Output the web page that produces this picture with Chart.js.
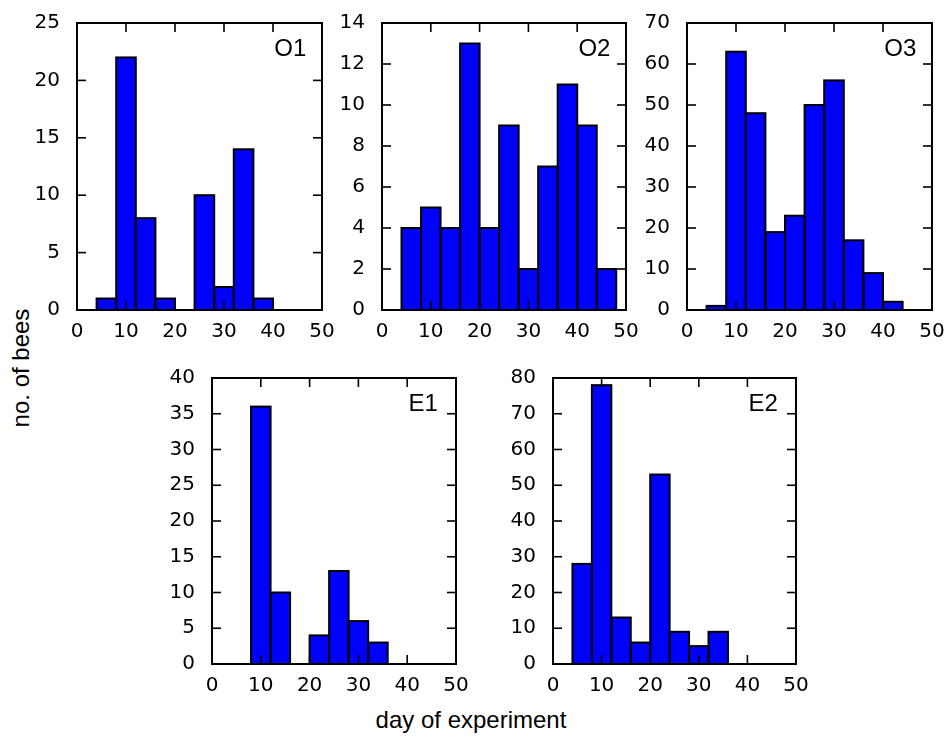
<!DOCTYPE html>
<html>
<head>
<meta charset="utf-8">
<script src="https://cdn.jsdelivr.net/npm/chart.js@4.4.1/dist/chart.umd.min.js"></script>
<style>
  html, body { margin: 0; padding: 0; background: #fff; }
  #page { position: relative; width: 948px; height: 738px; overflow: hidden; }
  canvas { position: absolute; }
  .axis-title {
    position: absolute;
    font-family: "Liberation Sans", Arial, sans-serif;
    font-size: 24px;
    line-height: 24px;
    height: 24px;
    color: #000;
    text-align: center;
    white-space: nowrap;
  }
</style>
</head>
<body>
<div id="page">
  <div class="axis-title" style="left:-79px; top:356px; width:200px; transform:rotate(-90deg);">no. of bees</div>
  <div class="axis-title" style="left:361px; top:708px; width:220px;">day of experiment</div>
</div>
<script>
// histogram bins (left edges, days) and counts per colony
const binStarts = [4, 8, 12, 16, 20, 24, 28, 32, 36, 40, 44];
const binWidth = 4;

const countsO1 = [1, 22, 8, 1, 0, 10, 2, 14, 1, 0, 0];
const countsO2 = [4, 5, 4, 13, 4, 9, 2, 7, 11, 9, 2];
const countsO3 = [1, 63, 48, 19, 23, 50, 56, 17, 9, 2, 0];
const countsE1 = [0, 36, 10, 0, 4, 13, 6, 3, 0, 0, 0];
const countsE2 = [28, 78, 13, 6, 53, 9, 5, 9, 0, 0, 0];

const panelNames = ['O1', 'O2', 'O3', 'E1', 'E2'];
const panelCounts = [countsO1, countsO2, countsO3, countsE1, countsE2];
const yMaxes = [25, 14, 70, 40, 80];
const ySteps = [5, 2, 10, 5, 10];
const xMin = 0, xMax = 50, xStep = 10;

// where each plot frame sits on the page
const frames = [
  { left: 77, top: 18, w: 245, h: 292 },
  { left: 382, top: 18, w: 244, h: 292 },
  { left: 687, top: 18, w: 245, h: 292 },
  { left: 212, top: 373, w: 244, h: 291 },
  { left: 553, top: 373, w: 243, h: 291 }
];
const Y_AXIS_W = 66, X_AXIS_H = 44, PAD_TOP = 16, PAD_RIGHT = 20;
const TICK_FONT = { family: 'DejaVu Sans', size: 20 };
const TICK_LEN = 9, TICK_W = 1.6;

// frame, inward ticks, bar outlines and the panel name
const framePlugin = {
  id: 'mplFrame',
  afterDatasetsDraw(chart) {
    const ctx = chart.ctx;
    const meta = chart.getDatasetMeta(0);
    ctx.save();
    ctx.strokeStyle = '#000';
    ctx.lineWidth = 2;
    meta.data.forEach(bar => {
      const { x, y, base, width } = bar.getProps(['x', 'y', 'base', 'width'], true);
      ctx.strokeRect(x - width / 2, y, width, base - y);
    });
    ctx.restore();
  },
  afterDraw(chart, args, opts) {
    const ctx = chart.ctx;
    const a = chart.chartArea;
    const xs = chart.scales.x, ys = chart.scales.y;
    ctx.save();
    ctx.fillStyle = '#000';
    xs.ticks.forEach(t => {
      const px = xs.getPixelForValue(t.value);
      ctx.fillRect(px - TICK_W / 2, a.bottom - TICK_LEN, TICK_W, TICK_LEN);
      ctx.fillRect(px - TICK_W / 2, a.top, TICK_W, TICK_LEN);
    });
    ys.ticks.forEach(t => {
      const py = ys.getPixelForValue(t.value);
      ctx.fillRect(a.left, py - TICK_W / 2, TICK_LEN, TICK_W);
      ctx.fillRect(a.right - TICK_LEN, py - TICK_W / 2, TICK_LEN, TICK_W);
    });

    ctx.strokeStyle = '#000';
    ctx.lineWidth = 2;
    ctx.strokeRect(a.left, a.top, a.right - a.left, a.bottom - a.top);

    ctx.font = '24px "Liberation Sans", Arial, sans-serif';
    ctx.textAlign = 'left';
    ctx.textBaseline = 'alphabetic';
    ctx.fillText(opts.name, a.left + (a.right - a.left) * 0.805, a.top + 33);
    ctx.restore();
  }
};

const page = document.getElementById('page');

panelNames.forEach((name, i) => {
  const f = frames[i];
  const cv = document.createElement('canvas');
  const cw = Y_AXIS_W + f.w + PAD_RIGHT;
  const ch = PAD_TOP + f.h + X_AXIS_H;
  cv.width = cw; cv.height = ch;
  cv.style.width = cw + 'px'; cv.style.height = ch + 'px';
  cv.style.left = (f.left - Y_AXIS_W) + 'px';
  cv.style.top = (f.top - PAD_TOP) + 'px';
  page.appendChild(cv);

  const points = binStarts.map((s, k) => ({ x: s + binWidth / 2, y: panelCounts[i][k] }));

  new Chart(cv.getContext('2d'), {
    type: 'bar',
    data: {
      datasets: [{
        data: points,
        backgroundColor: '#0000ff',
        borderWidth: 0,
        inflateAmount: 0,
        barPercentage: 1,
        categoryPercentage: 1
      }]
    },
    options: {
      responsive: false,
      animation: false,
      devicePixelRatio: 1,
      layout: { padding: { top: PAD_TOP, right: PAD_RIGHT, left: 0, bottom: 0 } },
      plugins: {
        legend: { display: false },
        tooltip: { enabled: false },
        mplFrame: { name: name }
      },
      scales: {
        x: {
          type: 'linear',
          offset: false,
          min: xMin, max: xMax,
          grid: { display: false },
          border: { display: false },
          ticks: { stepSize: xStep, autoSkip: false, maxRotation: 0, color: '#000', font: TICK_FONT, padding: 2 },
          afterFit(scale) { scale.height = X_AXIS_H; }
        },
        y: {
          min: 0, max: yMaxes[i],
          grid: { display: false },
          border: { display: false },
          ticks: { stepSize: ySteps[i], color: '#000', font: TICK_FONT, padding: 9 },
          afterFit(scale) { scale.width = Y_AXIS_W; }
        }
      }
    },
    plugins: [framePlugin]
  });
});
</script>
</body>
</html>
